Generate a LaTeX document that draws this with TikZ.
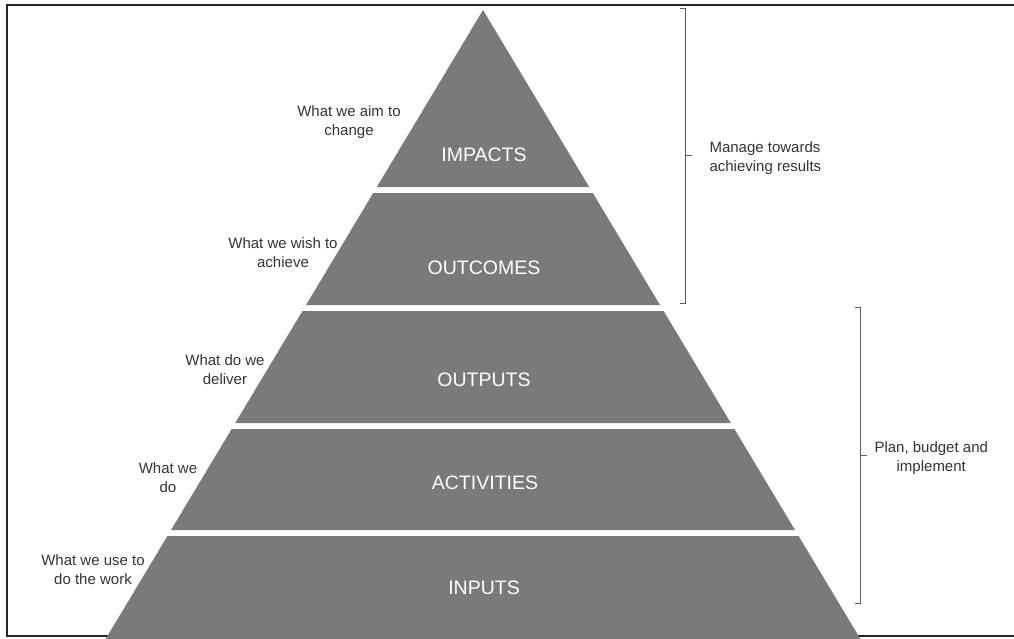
\documentclass[tikz,border=0pt]{standalone}
\usepackage{fontspec}
\setmainfont{Liberation Sans}
\tikzset{
  band/.style={fill=black!52},
  bandlabel/.style={text=white, font=\fontsize{19.5}{22}\selectfont},
  sidelabel/.style={align=center, text=black!80, font=\fontsize{15}{19}\selectfont},
  notelabel/.style={align=left, anchor=west, text=black!80, font=\fontsize{15}{19}\selectfont},
  bracket/.style={draw=black!65, line width=1pt},
  frame/.style={draw=black!85, line width=1.6pt}
}
\begin{document}
\begin{tikzpicture}[x=1pt,y=-1pt]
        \useasboundingbox (0,0) rectangle (1014,638);
        \begin{scope}
        \clip (0,0) rectangle (1014,638);

        % Outer frame (right edge lies outside the picture)
        \draw[frame] (1016,5) -- (7,5) -- (7,636) -- (1016,636);

        % Pyramid bands, apex at (483,10)
        \foreach \ytop/\ybot/\name/\txt in {10/187/impacts/IMPACTS, 193/305/outcomes/OUTCOMES,
                311/423/outputs/OUTPUTS, 429/530/activities/ACTIVITIES, 536/640/inputs/INPUTS} {
            \fill[band] ({483-0.6*(\ytop-10)},\ytop) -- ({483+0.6*(\ytop-10)},\ytop)
                -- ({483+0.6*(\ybot-10)},\ybot) -- ({483-0.6*(\ybot-10)},\ybot) -- cycle;
        }
        \end{scope}

        % Band names
        \node[bandlabel] (impacts) at (484,155) {IMPACTS};
        \node[bandlabel] (outcomes) at (484,268) {OUTCOMES};
        \node[bandlabel] (outputs) at (484,380) {OUTPUTS};
        \node[bandlabel] (activities) at (485,483) {ACTIVITIES};
        \node[bandlabel] (inputs) at (484,588) {INPUTS};

        % Questions on the left
        \node[sidelabel] (aim) at (349,122) {What we aim to\\change};
        \node[sidelabel] (wish) at (283,253) {What we wish to\\achieve};
        \node[sidelabel] (deliver) at (225,370) {What do we\\deliver};
        \node[sidelabel] (do) at (168,478) {What we\\do};
        \node[sidelabel] (use) at (93,570) {What we use to\\do the work};

        % Brackets on the right
        \draw[bracket] (680,8) -- (685,8) -- (685,303) -- (680,303);
        \draw[bracket] (685,155) -- (692,155);
        \node[notelabel] (manage) at (706,158) {Manage towards\\achieving results};

        \draw[bracket] (855,307) -- (860,307) -- (860,603) -- (855,603);
        \draw[bracket] (860,455) -- (867,455);
        \node[notelabel] (plan) at (871,458) {\begin{tabular}{@{}c@{}}Plan, budget and\\implement\end{tabular}};
\end{tikzpicture}
\end{document}
